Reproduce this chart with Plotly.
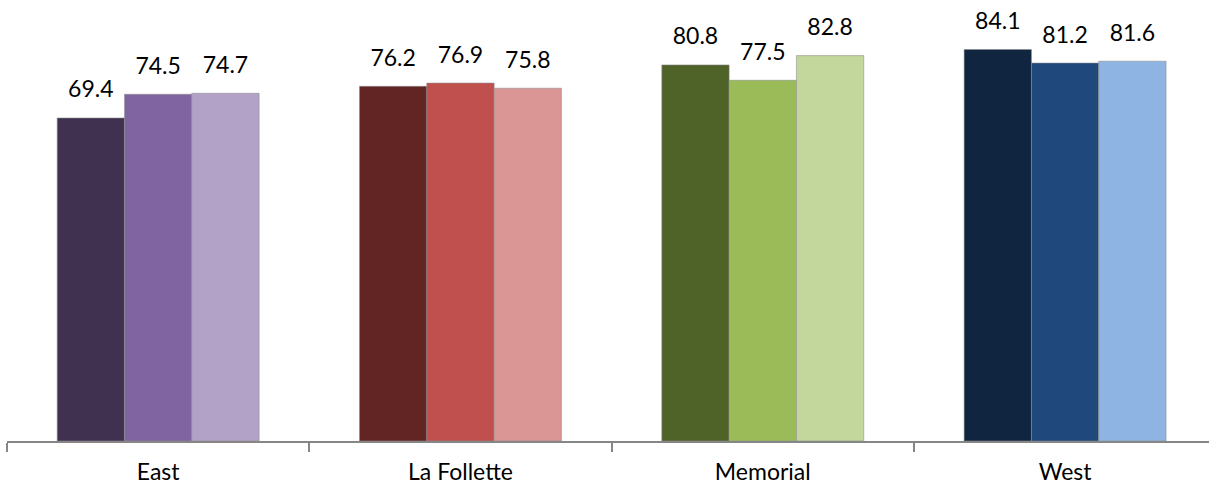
import plotly.graph_objects as go

categories = ["East", "La Follette", "Memorial", "West"]
series1 = [69.4, 76.2, 80.8, 84.1]
series2 = [74.5, 76.9, 77.5, 81.2]
series3 = [74.7, 75.8, 82.8, 81.6]
colors1 = ["#403151", "#632523", "#4f6228", "#10253f"]
colors2 = ["#8064a2", "#c0504d", "#9bbb59", "#1f497d"]
colors3 = ["#b3a2c7", "#d99694", "#c3d69b", "#8eb4e3"]

FONT = "Lato, sans-serif"
GAP = 0.332

fig = go.Figure()
for i, (vals, cols) in enumerate([(series1, colors1), (series2, colors2), (series3, colors3)]):
    fig.add_trace(go.Bar(
        x=categories, y=vals,
        marker=dict(color=cols, line=dict(color="rgba(140,140,140,0.7)", width=0.8)),
        offsetgroup=str(i),
        showlegend=False, hoverinfo="skip",
    ))
for i, vals in enumerate([series1, series2, series3]):
    fig.add_trace(go.Scatter(
        x=categories, y=vals,
        mode="text+markers",
        marker=dict(size=22, opacity=0),
        text=[f"{v:.1f}" for v in vals],
        textposition="top center",
        textfont=dict(family=FONT, size=23, color="#000000"),
        offsetgroup=str(i),
        cliponaxis=False,
        showlegend=False, hoverinfo="skip",
    ))

fig.update_layout(
    width=1209, height=485,
    margin=dict(l=7, r=0, t=10, b=44),
    paper_bgcolor="white", plot_bgcolor="white",
    barmode="group", bargap=GAP, bargroupgap=0,
    scattermode="group", scattergap=GAP,
    font=dict(family=FONT, size=23, color="#000000"),
    xaxis=dict(
        range=[-0.5, 3.476],
        showline=True, linecolor="#868686", linewidth=1.5,
        ticks="outside", tickson="boundaries", ticklen=9, tickcolor="#868686", tickwidth=1.5,
        tickfont=dict(family=FONT, size=23, color="#000000"),
        ticklabelstandoff=10,
        showgrid=False, automargin=False,
    ),
    yaxis=dict(range=[0, 92.6], visible=False, showgrid=False, zeroline=False, automargin=False),
)

fig.write_html("out.html", config={"displayModeBar": False},
               post_script="document.body.style.margin='0';")
